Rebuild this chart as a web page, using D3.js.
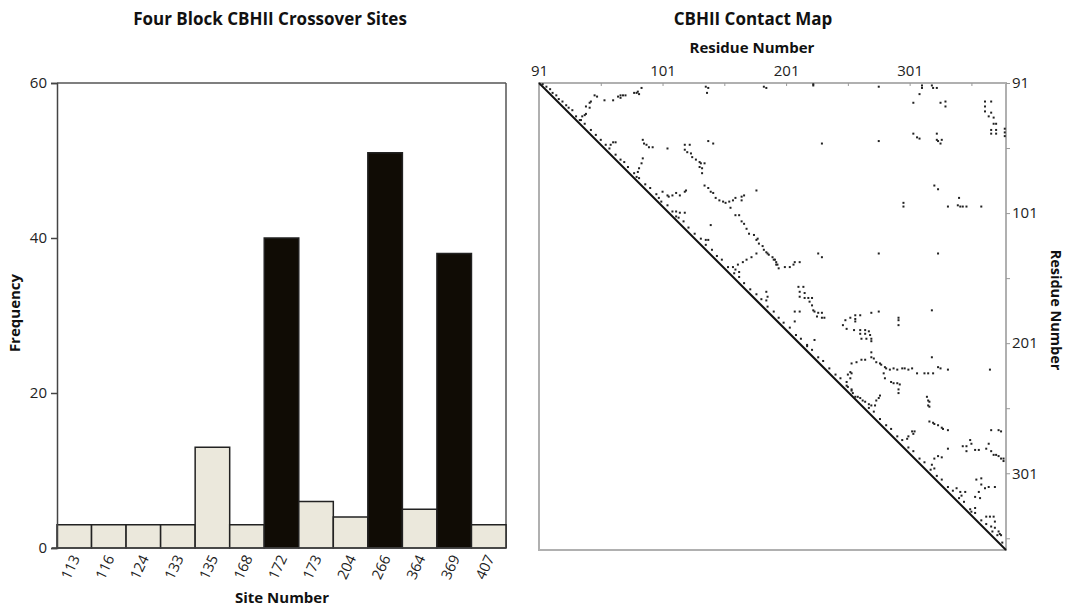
<!DOCTYPE html>
<html><head><meta charset="utf-8">
<script src="https://cdn.jsdelivr.net/npm/d3@7"></script>
<style>
html,body{margin:0;padding:0;background:#fff;}
svg{display:block;font-family:"Open Sans",sans-serif;}
</style></head>
<body><svg id="c" width="1069" height="606"></svg>
<script>
// ---------- data ----------
const sites = ["113","116","124","133","135","168","172","173","204","266","364","369","407"];
const frequency = [3,3,3,3,13,3,40,6,4,51,5,38,3];
const highlightedSites = ["172","266","369"];
const freqTicks = [0,20,40,60];

const residueTickValues = [0,50,100,150,200,250,300,350];
const residueLabels = {0:"91",100:"101",200:"201",300:"301"};
const residueSpanTop = 378;
const residueSpanRight = 359;
const diagonal = [[0,0],[378,378]];
const contacts = [
[45,10],[47,11],[42,15],[41,16],[38,19],[41,20],[53,14],[60,14],[64,11],[66,10],[68,10],[70,10],[66,12],
[77,8],[79,8],[81,9],[83,4],[80,7],[38,25],[37,26],[35,27],[33,30],[135,3],[136,8],[137,4],[182,3],[184,4],
[60,48],[62,48],[58,50],[84,46],[85,49],[87,50],[89,52],[92,52],[104,53],[118,50],[122,50],[118,54],[120,56],
[123,57],[124,60],[127,62],[130,64],[131,65],[134,65],[130,68],[132,69],[132,73],[137,47],[141,49],[84,61],
[83,65],[81,69],[80,72],[79,76],[134,83],[137,85],[139,88],[141,89],[143,93],[146,95],[149,96],[151,97],
[154,96],[157,95],[159,93],[164,92],[166,91],[164,95],[155,101],[176,87],[100,88],[104,91],[105,92],[108,91],
[111,89],[114,91],[118,88],[119,87],[97,93],[111,104],[114,105],[118,105],[111,108],[139,115],[159,107],
[162,107],[164,112],[166,114],[168,118],[170,122],[174,123],[176,127],[177,126],[178,130],[181,132],[182,135],
[184,137],[185,138],[186,139],[189,141],[190,143],[192,145],[193,147],[176,138],[172,141],[168,143],[165,145],
[161,147],[157,149],[159,151],[162,153],[184,169],[185,173],[184,176],[135,127],[137,127],
[222,1],[222,2],[275,3],[310,2],[310,4],[308,9],[318,2],[319,4],[322,4],[303,16],[325,16],[329,15],[329,19],
[361,15],[366,15],[361,19],[361,23],[366,24],[364,27],[368,28],[368,33],[370,33],[366,38],[370,38],[366,41],
[370,41],[377,37],[377,40],[377,43],[303,41],[306,44],[308,45],[322,41],[322,46],[323,47],[325,49],[326,46],
[229,49],[275,47],[320,83],[323,86],[295,97],[295,100],[340,93],[331,100],[339,99],[341,100],[343,100],
[346,100],[358,100],[226,138],[229,141],[275,138],[323,138],[191,143],[192,147],[194,150],[199,149],[203,149],
[207,145],[211,145],[206,147],[210,165],[214,165],[211,169],[215,170],[211,173],[215,174],[218,174],[221,174],
[219,177],[221,180],[222,184],[223,185],[226,186],[229,186],[225,189],[229,190],[231,190],[207,185],[211,185],
[248,192],[252,190],[256,188],[256,191],[260,188],[269,186],[275,185],[291,190],[291,192],[318,184],
[246,196],[249,199],[256,193],[255,200],[260,200],[264,200],[267,201],[260,203],[264,203],[268,204],[261,207],
[265,207],[269,207],[269,209],[269,218],[291,196],[207,193],[223,208],[217,212],[253,227],[257,226],[261,224],
[264,224],[269,222],[271,223],[273,226],[276,227],[277,228],[280,230],[281,231],[284,232],[287,231],[290,232],
[294,231],[296,231],[299,232],[302,231],[306,235],[312,235],[315,235],[319,235],[323,230],[325,231],[331,232],
[318,222],[365,232],[279,235],[280,239],[252,234],[253,235],[250,236],[252,239],[249,242],[250,246],[253,249],
[254,251],[256,254],[260,255],[264,258],[267,260],[269,261],[272,261],[273,257],[275,255],[276,253],[285,242],
[287,243],[290,243],[292,244],[291,248],[291,251],[314,254],[315,257],[316,258],[315,261],[316,262],[316,274],
[319,275],[320,276],[323,277],[326,279],[327,280],[331,281],[302,282],[303,284],[299,286],[298,288],[304,282],
[331,296],[343,294],[346,294],[349,289],[350,292],[353,297],[356,297],[346,298],[362,296],[366,298],[368,301],
[370,301],[372,302],[374,304],[376,304],[376,306],[366,281],[372,281],[374,282],[364,292],[320,304],[323,302],
[326,303],[318,309],[320,312],[354,321],[358,320],[361,328],[356,331],[357,336],[353,335],[358,325],[364,327],
[369,327],[338,328],[341,331],[342,334],[345,331],[362,351],[365,351],[368,351],[369,355],[366,359],[369,360],
[372,363],[373,365],[374,366],[353,344],[350,347],
[3,1],[6,3],[9,5],[11,8],[14,10],[16,13],[19,15],[22,18],[24,20],[27,22],[30,27],[34,30],[37,33],[42,38],
[46,42],[50,46],[54,50],[57,53],[62,58],[66,62],[69,64],[72,68],[77,73],[81,77],[86,82],[90,85],[95,90],
[99,96],[104,99],[108,104],[113,109],[117,112],[121,117],[126,122],[131,126],[135,131],[140,135],[144,140],
[148,143],[153,149],[158,154],[162,157],[166,162],[171,167],[176,171],[180,175],[185,181],[190,185],[194,190],
[198,194],[203,198],[208,204],[212,207],[217,213],[221,216],[226,222],[230,225],[235,231],[240,236],[244,239],
[249,245],[253,248],[258,254],[262,257],[267,263],[271,266],[276,272],[281,277],[285,280],[290,286],[294,289],
[299,295],[303,298],[308,304],[312,307],[317,313],[322,318],[326,321],[331,327],[335,330],[340,336],[344,339],
[349,345],[353,348],[358,354],[362,357],[367,363],[371,366],[375,372]
];

// ---------- layout ----------
const svg = d3.select("#c");
const bar = {left:57, right:506, top:83, bottom:548};
const map = {left:539, right:1006, top:83, bottom:550};

// ---------- bar chart ----------
const x = d3.scaleBand().domain(sites).range([bar.left, bar.right]).padding(0);
const y = d3.scaleLinear().domain([0,60]).range([bar.bottom, bar.top]);

svg.append("text").attr("x",270).attr("y",25).attr("text-anchor","middle")
  .attr("font-size",17).attr("font-weight","bold").attr("fill","#111")
  .text("Four Block CBHII Crossover Sites");

svg.append("line").attr("x1",bar.left).attr("x2",bar.right).attr("y1",bar.top).attr("y2",bar.top)
  .attr("stroke","#555").attr("stroke-width",1.5);
svg.append("line").attr("x1",bar.right).attr("x2",bar.right).attr("y1",bar.top).attr("y2",bar.bottom)
  .attr("stroke","#555").attr("stroke-width",1.5);

svg.append("g").selectAll("rect").data(sites).join("rect")
  .attr("x", d => x(d)).attr("width", x.bandwidth())
  .attr("y", (d,i) => y(frequency[i])).attr("height", (d,i) => y(0) - y(frequency[i]))
  .attr("fill", d => highlightedSites.includes(d) ? "#100c05" : "#ebe8dc")
  .attr("stroke", "#222").attr("stroke-width", 1.5);

const yAxis = svg.append("g").attr("transform",`translate(${bar.left},0)`)
  .call(d3.axisLeft(y).tickValues(freqTicks).tickSize(6).tickPadding(4));
yAxis.select(".domain").attr("stroke","#444").attr("stroke-width",1.5);
yAxis.selectAll(".tick line").attr("stroke","#444").attr("stroke-width",1.5);
yAxis.selectAll("text").attr("font-size",15).attr("fill","#222").attr("font-family","Open Sans");

const xAxis = svg.append("g").attr("transform",`translate(0,${bar.bottom})`)
  .call(d3.axisBottom(x).tickSize(0).tickPadding(0));
xAxis.select(".domain").attr("stroke","#444").attr("stroke-width",1.5)
  .attr("d",`M${bar.left-5},0H${bar.right}`);
xAxis.selectAll("text").attr("font-size",14.5).attr("fill","#222").attr("font-family","Open Sans")
  .attr("text-anchor","end").attr("dy",null).attr("y",null)
  .attr("transform","translate(6,10) rotate(-65)");

svg.append("text").attr("transform",`translate(20,313) rotate(-90)`).attr("text-anchor","middle")
  .attr("font-size",15).attr("font-weight","bold").attr("fill","#111").text("Frequency");
svg.append("text").attr("x",282).attr("y",603).attr("text-anchor","middle")
  .attr("font-size",15).attr("font-weight","bold").attr("fill","#111").text("Site Number");

// ---------- contact map ----------
const mx = d3.scaleLinear().domain([0,residueSpanTop]).range([map.left,map.right]);
const my = d3.scaleLinear().domain([0,residueSpanTop]).range([map.top,map.bottom]);
const ryAxisScale = d3.scaleLinear().domain([0,residueSpanRight]).range([map.top,map.bottom]);

svg.append("text").attr("x",753).attr("y",25).attr("text-anchor","middle")
  .attr("font-size",17).attr("font-weight","bold").attr("fill","#111").text("CBHII Contact Map");
svg.append("text").attr("x",752).attr("y",53).attr("text-anchor","middle")
  .attr("font-size",15).attr("font-weight","bold").attr("fill","#111").text("Residue Number");
svg.append("text").attr("transform",`translate(1051,310) rotate(90)`).attr("text-anchor","middle")
  .attr("font-size",14.5).attr("font-weight","bold").attr("fill","#111").text("Residue Number");

svg.append("rect").attr("x",map.left).attr("y",map.top).attr("width",map.right-map.left)
  .attr("height",map.bottom-map.top).attr("fill","none").attr("stroke","#b0b0b0").attr("stroke-width",2);

const topAxis = svg.append("g").attr("transform",`translate(0,${map.top})`)
  .call(d3.axisTop(mx).tickValues(residueTickValues).tickSize(-3).tickPadding(7)
    .tickFormat(d => residueLabels[d] || ""));
topAxis.select(".domain").remove();
topAxis.selectAll(".tick line").attr("stroke","#999");
topAxis.selectAll("text").attr("font-size",15).attr("fill","#222").attr("font-family","Open Sans");

const rightAxis = svg.append("g").attr("transform",`translate(${map.right},0)`)
  .call(d3.axisRight(ryAxisScale).tickValues(residueTickValues).tickSize(4).tickPadding(2)
    .tickFormat(d => residueLabels[d] || ""));
rightAxis.select(".domain").remove();
rightAxis.selectAll(".tick line").attr("stroke","#999");
rightAxis.selectAll("text").attr("font-size",15).attr("fill","#222").attr("font-family","Open Sans");

svg.append("path").datum(diagonal)
  .attr("d", d3.line().x(d => mx(d[0])).y(d => my(d[1])))
  .attr("stroke","#111").attr("stroke-width",2).attr("fill","none");

svg.append("g").selectAll("rect").data(contacts).join("rect")
  .attr("x", d => mx(d[0]) - 1).attr("y", d => my(d[1]) - 1)
  .attr("width", 2).attr("height", 2).attr("fill", "#222");
</script></body></html>
